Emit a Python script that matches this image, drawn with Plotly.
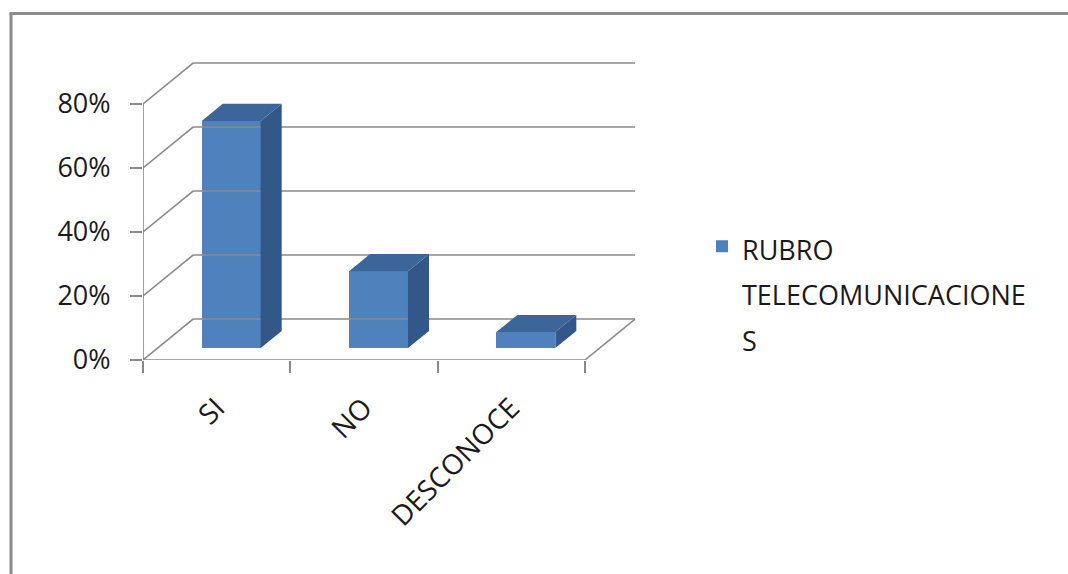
import plotly.graph_objects as go

# ---------------- data ----------------
categories = ["SI", "NO", "DESCONOCE"]
values = [71, 24, 5]  # percent
y_ticks = [0, 20, 40, 60, 80]
y_tick_labels = ["0%", "20%", "40%", "60%", "80%"]
legend_lines = ["RUBRO", "TELECOMUNICACIONE", "S"]

# ---------------- styling / geometry ----------------
DX, DY = 0.34, 12.8          # depth vector of the 3-D box (data units)
F_FRONT, F_DEPTH = 0.29, 0.42  # bar front position / bar depth as fraction of box depth
BAR_W = 0.4
N = len(categories)
X_MIN, X_MAX = -0.5, N - 0.5 + 0.36
Y_MIN, Y_MAX = 0, 95

FRONT = "#4F81BD"
SIDE = "#34578A"
TOP = "#3C6699"
GRID = "#8a8a8a"
FONT = "Open Sans, Lato, sans-serif"
TXT = "#1a1a1a"
FS = 27

fig = go.Figure()

# walls / floor gridlines
for v in y_ticks:
    fig.add_trace(go.Scatter(
        x=[X_MIN, X_MIN + DX, N - 0.5 + DX], y=[v, v + DY, v + DY],
        mode="lines", line=dict(color=GRID, width=1.6),
        xaxis="x2", yaxis="y", showlegend=False, hoverinfo="skip"))
# floor front edge + right edge
fig.add_trace(go.Scatter(
    x=[X_MIN, N - 0.5, N - 0.5 + DX], y=[0, 0, DY],
    mode="lines", line=dict(color=GRID, width=1.6),
    xaxis="x2", yaxis="y", showlegend=False, hoverinfo="skip"))
# vertical value axis line
fig.add_trace(go.Scatter(
    x=[X_MIN, X_MIN], y=[y_ticks[0], y_ticks[-1]],
    mode="lines", line=dict(color=GRID, width=1.6),
    xaxis="x2", yaxis="y", showlegend=False, hoverinfo="skip"))

# bar front faces
base = F_FRONT * DY
fig.add_trace(go.Bar(
    x=categories, y=values, base=base, width=BAR_W,
    offset=-BAR_W / 2 + F_FRONT * DX,
    marker=dict(color=FRONT, line=dict(width=0)),
    name="<br>".join('<span style="font-size:%dpx">%s</span>' % (FS, s) for s in legend_lines),
    xaxis="x", yaxis="y", hoverinfo="skip"))

# bar side and top faces
gx, gy = F_DEPTH * DX, F_DEPTH * DY
for i, v in enumerate(values):
    x1 = i + F_FRONT * DX + BAR_W / 2
    x0 = x1 - BAR_W
    b = base
    t = base + v
    fig.add_trace(go.Scatter(
        x=[x1, x1 + gx, x1 + gx, x1, x1], y=[b, b + gy, t + gy, t, b],
        fill="toself", fillcolor=SIDE, mode="lines", line=dict(width=0, color=SIDE),
        xaxis="x2", yaxis="y", showlegend=False, hoverinfo="skip"))
    fig.add_trace(go.Scatter(
        x=[x0, x0 + gx, x1 + gx, x1, x0], y=[t, t + gy, t + gy, t, t],
        fill="toself", fillcolor=TOP, mode="lines", line=dict(width=0, color=TOP),
        xaxis="x2", yaxis="y", showlegend=False, hoverinfo="skip"))

W, H = 1068, 574
L = 143
plot_w = 495
plot_h = (Y_MAX - Y_MIN) * 3.2
T = 360 - plot_h
B = H - 360
R = W - L - plot_w

def px_to_paper_x(px):
    return (px - L) / plot_w

def px_to_paper_y(py):
    return (360 - py) / plot_h

fig.update_layout(
    width=W, height=H,
    margin=dict(l=L, r=R, t=T, b=B, pad=0),
    paper_bgcolor="white", plot_bgcolor="white",
    font=dict(family=FONT, color=TXT, size=FS),
    bargap=0,
    xaxis=dict(
        type="category", categoryorder="array", categoryarray=categories,
        range=[X_MIN, X_MAX], tickson="boundaries", ticks="outside",
        ticklen=12, tickwidth=1.5, tickcolor=GRID, tickangle=-45,
        showgrid=False, showline=False, zeroline=False, ticklabelstandoff=25,
        tickfont=dict(size=28, family=FONT, color=TXT)),
    xaxis2=dict(overlaying="x", range=[X_MIN, X_MAX], visible=False),
    yaxis=dict(
        range=[Y_MIN, Y_MAX], tickvals=y_ticks, ticktext=y_tick_labels,
        ticks="outside", ticklen=12, tickwidth=1.5, tickcolor=GRID,
        showgrid=False, showline=False, zeroline=False, ticklabelstandoff=14,
        tickfont=dict(size=FS, family=FONT, color=TXT)),
    legend=dict(
        x=px_to_paper_x(702), y=px_to_paper_y(217), xanchor="left", yanchor="top",
        valign="top", bgcolor="rgba(0,0,0,0)", borderwidth=0,
        font=dict(size=35, family=FONT, color=TXT)),
    showlegend=True,
    shapes=[
        dict(type="line", xref="paper", yref="paper",
             x0=px_to_paper_x(11), x1=px_to_paper_x(11),
             y0=px_to_paper_y(H + 5), y1=px_to_paper_y(13.5),
             line=dict(color="#8c8c8c", width=3)),
        dict(type="line", xref="paper", yref="paper",
             x0=px_to_paper_x(9.5), x1=px_to_paper_x(W + 5),
             y0=px_to_paper_y(13.5), y1=px_to_paper_y(13.5),
             line=dict(color="#8c8c8c", width=3)),
    ],
)

fig.write_html("out.html")
